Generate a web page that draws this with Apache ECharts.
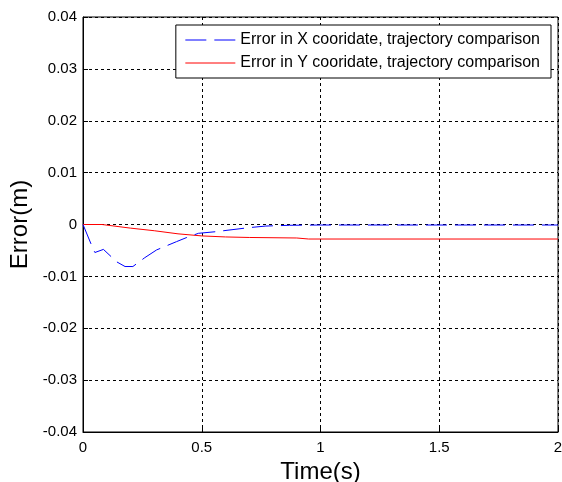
<!DOCTYPE html>
<html>
<head>
<meta charset="utf-8">
<script src="https://cdn.jsdelivr.net/npm/echarts@6/dist/echarts.min.js"></script>
<style>
  html, body { margin: 0; padding: 0; background: #fff; }
  #chart { width: 562px; height: 482px; }
</style>
</head>
<body>
<div id="chart"></div>
<script>
// Tracking error of the trajectory comparison, in metres, over time in seconds
const timeX = [0, 0.037, 0.05, 0.086, 0.142, 0.177, 0.21, 0.26, 0.31, 0.394, 0.437, 0.486, 0.556, 0.70, 0.77, 0.87, 1.0, 2.0];
const errorX = [0, -0.0041, -0.0054, -0.0048, -0.0072, -0.0081, -0.0081, -0.0064, -0.0049, -0.0033, -0.0025, -0.0017, -0.0014, -0.0006, -0.0003, -0.00015, -0.0001, -0.0001];

const timeY = [0, 0.08, 0.2, 0.3, 0.4, 0.5, 0.6, 0.7, 0.9, 0.95, 1.0, 2.0];
const errorY = [0, 0, -0.0007, -0.0012, -0.0018, -0.0022, -0.0024, -0.0025, -0.0026, -0.0028, -0.0028, -0.0028];

const xTicks = [0, 0.5, 1, 1.5, 2];
const yTicks = [-0.04, -0.03, -0.02, -0.01, 0, 0.01, 0.02, 0.03, 0.04];

const seriesNames = [
  'Error in X cooridate, trajectory comparison',
  'Error in Y cooridate, trajectory comparison'
];

const pairs = (xs, ys) => xs.map((x, i) => [x, ys[i]]);

const font = 'Liberation Sans, Arial, sans-serif';
const dashX = [21, 8];
const gridLine = { show: true, lineStyle: { color: '#000', type: [3, 3], width: 1 } };

const chart = echarts.init(document.getElementById('chart'), null, { renderer: 'canvas' });
chart.setOption({
  animation: false,
  backgroundColor: '#fff',
  grid: {
    left: 83, right: 4, top: 17, bottom: 50,
    containLabel: false,
    outerBoundsMode: 'none',
    show: true, borderColor: '#000', borderWidth: 1, backgroundColor: 'transparent'
  },
  legend: {
    orient: 'vertical',
    right: 11,
    top: 25,
    padding: [7, 11, 7, 9],
    itemWidth: 50,
    itemHeight: 14,
    itemGap: 7,
    itemTextGap: 5,
    borderColor: '#000',
    borderWidth: 1,
    borderRadius: 0,
    backgroundColor: '#fff',
    itemStyle: { opacity: 0 },
    textStyle: { fontFamily: font, fontSize: 16, lineHeight: 16, color: '#000' },
    data: [
      { name: seriesNames[0], lineStyle: { type: dashX, color: '#0000ff', width: 1 } },
      { name: seriesNames[1], lineStyle: { type: 'solid', color: '#ff0000', width: 1 } }
    ]
  },
  xAxis: {
    type: 'value',
    min: xTicks[0],
    max: xTicks[xTicks.length - 1],
    interval: 0.5,
    name: 'Time(s)',
    nameLocation: 'middle',
    nameGap: 25,
    nameTextStyle: { fontFamily: font, fontSize: 24, color: '#000' },
    axisLine: { show: true, onZero: false, lineStyle: { color: '#000', width: 1 } },
    axisTick: { show: true, inside: true, length: 5, lineStyle: { color: '#000' } },
    axisLabel: { fontFamily: font, fontSize: 15, color: '#000', margin: 8,
      formatter: v => String(v) },
    splitLine: gridLine
  },
  yAxis: {
    type: 'value',
    min: yTicks[0],
    max: yTicks[yTicks.length - 1],
    interval: 0.01,
    name: 'Error(m)',
    nameLocation: 'middle',
    nameGap: 47,
    nameTextStyle: { fontFamily: font, fontSize: 24, color: '#000' },
    axisLine: { show: true, onZero: false, lineStyle: { color: '#000', width: 1 } },
    axisTick: { show: true, inside: true, length: 5, lineStyle: { color: '#000' } },
    axisLabel: { fontFamily: font, fontSize: 15, color: '#000', margin: 6,
      formatter: v => {
        const r = Math.round(v * 100) / 100;
        return r === 0 ? '0' : r.toFixed(2);
      } },
    splitLine: gridLine
  },
  series: [
    {
      name: seriesNames[0],
      type: 'line',
      data: pairs(timeX, errorX),
      showSymbol: false,
      symbol: 'none',
      lineStyle: { color: '#0000ff', width: 1, type: dashX },
      itemStyle: { color: '#0000ff' },
      z: 3
    },
    {
      name: seriesNames[1],
      type: 'line',
      data: pairs(timeY, errorY),
      showSymbol: false,
      symbol: 'none',
      lineStyle: { color: '#ff0000', width: 1, type: 'solid' },
      itemStyle: { color: '#ff0000' },
      z: 2
    }
  ]
});
</script>
</body>
</html>
